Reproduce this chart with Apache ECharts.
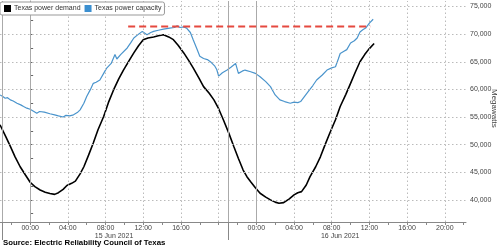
<!DOCTYPE html>
<html><head><meta charset="utf-8">
<script src="https://cdn.jsdelivr.net/npm/echarts@6/dist/echarts.min.js"></script>
<style>html,body{margin:0;padding:0;background:#fff}#c{width:500px;height:249px}</style>
</head><body><div id="c"></div>
<script>
// Hours since 15 Jun 2021 00:00
const demandHours = [-3.2,-2.6,-2.1,-1.6,-1.06,-0.5,0,0.5,1.06,1.6,2.1,2.6,3.0,3.5,3.9,4.4,4.8,5.3,5.7,6.2,6.7,7.2,7.8,8.3,8.85,9.4,9.9,10.5,11,11.5,12,12.5,13.1,13.6,14.15,14.7,15.2,15.7,16.3,16.8,17.3,17.9,18.4,19,19.5,20,20.5,21.1,21.6,22.1,22.6,23,23.4,23.9,24.4,25,25.5,26,26.4,26.9,27.5,28,28.4,28.8,29.3,29.7,30.3,30.8,31.3,31.8,32.4,32.9,33.5,34,34.5,35,35.5,35.9,36.5];
const demandMW = [53600,51500,49700,47800,46000,44500,43200,42400,41800,41400,41150,41000,41300,41900,42600,43000,43400,44700,46000,48100,50300,52700,55100,57600,59900,61900,63500,65200,66600,67900,69000,69300,69500,69700,69900,69500,69000,68000,66600,65300,63900,62100,60500,59300,58100,56500,54500,52000,49700,47500,45400,44200,43300,42200,41200,40500,40000,39600,39400,39500,40200,40900,41300,41500,42700,44200,46000,47800,50000,52100,54500,56900,59100,61100,63100,65000,66300,67200,68300];
const capacityHours = [-3.2,-2.9,-2.65,-2.4,-2.1,-1.8,-1.4,-1.0,-0.7,-0.35,0,0.4,0.7,1.0,1.2,1.5,2.1,2.6,3.0,3.5,3.8,4.2,4.6,5.0,5.3,5.7,6.0,6.4,6.7,7.0,7.4,7.8,8.1,8.6,9.0,9.2,9.6,10.3,10.7,11,11.5,11.9,12.4,12.8,13.1,13.6,14.15,14.8,15.3,15.6,15.9,16.3,16.6,17.0,17.3,17.7,18.0,18.4,18.8,19.2,19.6,19.8,20.0,20.4,20.9,21.3,21.8,22.1,22.5,22.8,23.4,23.9,24.4,25.0,25.5,26.0,26.5,27.0,27.6,28.0,28.4,28.7,29.1,29.5,30.0,30.4,31.0,31.5,32.0,32.4,32.7,32.9,33.3,33.6,34.0,34.4,34.7,35.0,35.3,35.6,36.0,36.4];
const capacityMW = [59000,58700,58400,58500,58100,57900,57500,57200,56900,56600,56400,56000,55700,56000,56300,55900,55600,55400,55200,55000,55300,55200,55400,55800,56300,57500,58700,60000,61100,61300,61700,62900,63800,64700,66300,65500,66300,67500,68500,69300,70000,70500,69900,70300,70500,70700,70900,71100,71200,71500,71200,71300,71100,70300,69000,67300,66000,65600,65400,64900,64200,63600,62400,63000,63500,64000,64700,62900,63300,63500,63200,62900,62300,61400,60500,59000,58100,57800,57500,57700,57600,57800,58700,59600,60700,61700,62600,63500,63900,64100,65500,66500,66900,67200,68400,68800,69300,70400,70800,71100,72000,72700];
const limitHours = [10.4, 36.1];
const limitMW = [71400, 71400];
const timeTickHours = [-2,0,2,4,6,8,10,12,14,16,18,20,22,24,26,28,30,32,34,36,38,40,42,44,46];
const timeLabelHours = [0,4,8,12,16,24,28,32,36,40,44];
const dotGridHours = [4,8,12,16,20,28,32,36,40,44];
const solidGridHours = [-3,0,21,24];
const separatorHours = [-3,21];
const dateLabelHours = [8.9,32.9];
const dateLabels = ['15 Jun 2021','16 Jun 2021'];
const yLabelValues = [40000,45000,50000,55000,60000,65000,70000,75000];
const yTickValues = [37500,40000,42500,45000,47500,50000,52500,55000,57500,60000,62500,65000,67500,70000,72500,75000];

function fmtTime(h){ let hh = ((Math.round(h)%24)+24)%24; return (hh<10?'0':'')+hh+':00'; }
const pair = (xs, ys) => xs.map((x,i)=>[x, ys[i]]);
const XMIN=-3.2, XMAX=46.25;
const font = 'Liberation Sans, Arial, sans-serif';

const chart = echarts.init(document.getElementById('c'), null, {renderer:'canvas'});
chart.setOption({
  animation:false,
  grid:{left:0,right:34,top:1,bottom:27,containLabel:false},
  legend:{
    data:['Texas power demand','Texas power capacity'],
    left:0, top:2, orient:'horizontal', icon:'rect', itemWidth:7, itemHeight:7, itemGap:4,
    padding:[3,3,3,4], backgroundColor:'#fff', borderColor:'#999', borderWidth:1, borderRadius:2,
    textStyle:{fontSize:7, color:'#333', fontFamily:font, padding:[0,0,0,-2]}, z:10
  },
  xAxis:[
    {type:'value', min:XMIN, max:XMAX, position:'bottom',
     axisLine:{show:true, lineStyle:{color:'#888', width:1}},
     axisTick:{show:true, length:3, customValues:timeTickHours, lineStyle:{color:'#888'}},
     axisLabel:{show:true, customValues:timeLabelHours, formatter:v=>fmtTime(v), fontSize:7, color:'#444', fontFamily:font, margin:3},
     splitLine:{show:false}},
    {type:'value', min:XMIN, max:XMAX, position:'bottom',
     axisLine:{show:false},
     axisTick:{show:true, length:18, customValues:separatorHours, lineStyle:{color:'#888'}},
     axisLabel:{show:true, customValues:dateLabelHours, formatter:v=>dateLabels[dateLabelHours.indexOf(v)] || '', fontSize:7, color:'#444', fontFamily:font, margin:11},
     splitLine:{show:false}}
  ],
  yAxis:{type:'value', min:36000, max:76000, position:'right',
    axisLine:{show:true, lineStyle:{color:'#888'}},
    axisTick:{show:true, length:3, customValues:yTickValues, lineStyle:{color:'#666'}},
    axisLabel:{show:true, customValues:yLabelValues, fontSize:7, color:'#444', fontFamily:font, margin:4},
    splitLine:{show:false}},
  graphic:[
    {type:'text', left:3, top:239, style:{text:'Source: Electric Reliability Council of Texas', font:'bold 7.8px '+font, fill:'#000'}},
    {type:'text', x:498, y:89, rotation:-Math.PI/2, style:{text:'Megawatts', font:'8px '+font, fill:'#444'}}
  ],
  series:[
    {type:'line', name:'grid', data:[], silent:true, z:1,
     markLine:{silent:true, symbol:['none','none'], label:{show:false}, animation:false,
       data:[].concat(
         yLabelValues.map(v=>({yAxis:v, lineStyle:{color:'#bbb', type:[1.5,2.5], width:1}})),
         dotGridHours.map(h=>({xAxis:h, lineStyle:{color:'#bbb', type:[1.5,2.5], width:1}})),
         solidGridHours.map(h=>({xAxis:h, lineStyle:{color:'#aaa', type:'solid', width:1}}))
       )}},
    {type:'line', name:'Texas power capacity', data:pair(capacityHours, capacityMW), showSymbol:false, symbol:'none',
     itemStyle:{color:'#3b8fd0'}, lineStyle:{color:'#4a94cc', width:1.2}, z:3},
    {type:'line', name:'Texas power demand', data:pair(demandHours, demandMW), showSymbol:false, symbol:'none',
     itemStyle:{color:'#000'}, lineStyle:{color:'#000', width:1.6}, z:4},
    {type:'line', name:'limit', data:pair(limitHours, limitMW), showSymbol:false, symbol:'none',
     lineStyle:{color:'#e5493f', width:2, type:[7,4]}, z:5}
  ]
});
</script></body></html>
